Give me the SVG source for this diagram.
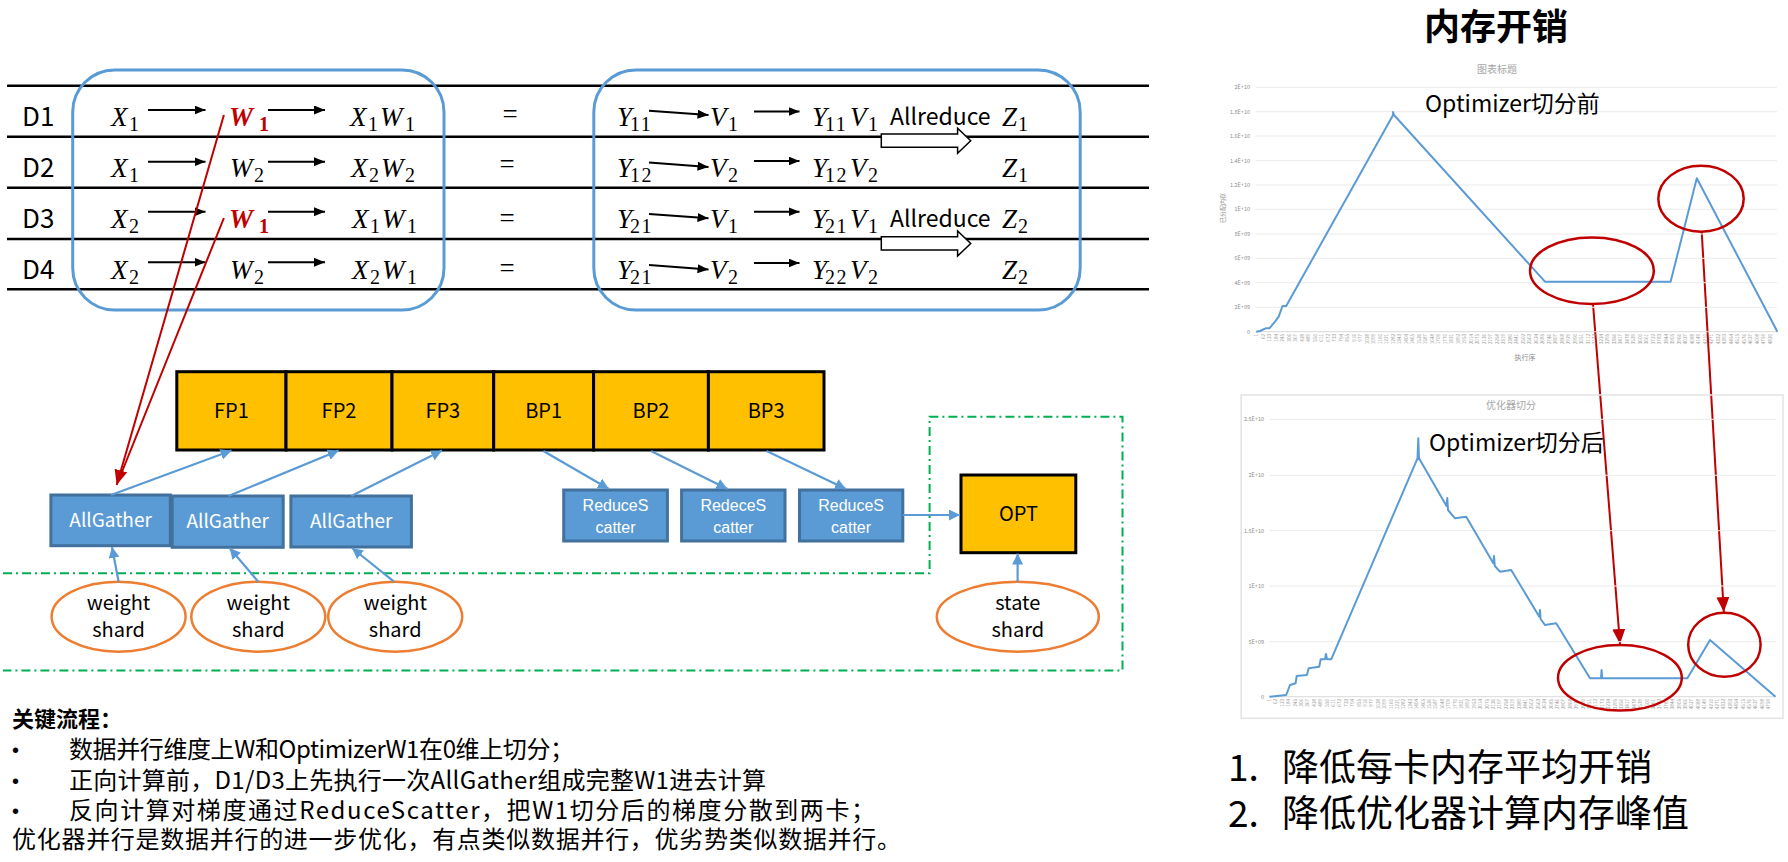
<svg xmlns="http://www.w3.org/2000/svg" width="1788" height="862" viewBox="0 0 1788 862">
<defs>
<style>
.sans{font-family:"Noto Sans CJK SC","Noto Sans",sans-serif}
.math{font-family:"Liberation Serif",serif;font-style:italic;font-size:27px;fill:#000}
.sub{font-style:normal;font-size:20px;letter-spacing:1.5px}
.red{fill:#C00000;font-weight:bold}
.eq{font-family:"Liberation Serif",serif;font-size:27px;text-anchor:middle}
.dl{font-size:26px}
.rowline{stroke:#000;stroke-width:2.5}
.mbox{fill:none;stroke:#5B9BD5;stroke-width:3}
.blk{stroke:#000;stroke-width:2;fill:none}
.blue{stroke:#5B9BD5;stroke-width:2.2;fill:none}
.redl{stroke:#C00000;stroke-width:2;fill:none}
.cell{fill:#FFC000;stroke:#000;stroke-width:3}
.cl{font-size:20px;text-anchor:middle;fill:#000}
.bb{fill:#5B9BD5;stroke:#41719C;stroke-width:3}
.bt{font-size:19px;text-anchor:middle;fill:#fff}
.rt{font-family:"Liberation Sans",sans-serif;font-size:16px;text-anchor:middle;fill:#fff}
.ell{fill:#fff;stroke:#ED7D31;stroke-width:2.5}
.et{font-size:20px;text-anchor:middle;fill:#000}
.grid{stroke:#ebebeb;stroke-width:1}
.cline{stroke:#5B9BD5;stroke-width:2;fill:none;stroke-linejoin:round}
.rell{fill:none;stroke:#C00000;stroke-width:2.5}
.yl{font-size:5.5px;fill:#8c8c8c;text-anchor:end}
.xt{font-size:4.6px;fill:#9a9a9a;text-anchor:end}
.ct{font-size:10px;fill:#a6a6a6;text-anchor:middle}
.body{font-size:24px;fill:#000}
.bul{font-family:"Liberation Sans",sans-serif;font-size:20px;fill:#000}
</style>
<marker id="ab" markerUnits="userSpaceOnUse" markerWidth="12" markerHeight="9" refX="11" refY="4.5" orient="auto"><path d="M0,0 L11,4.5 L0,9 z" fill="#000"/></marker>
<marker id="au" markerUnits="userSpaceOnUse" markerWidth="12" markerHeight="11" refX="11" refY="5.5" orient="auto"><path d="M0,0 L11,5.5 L0,11 z" fill="#5B9BD5"/></marker>
<marker id="ar" markerUnits="userSpaceOnUse" markerWidth="16" markerHeight="13" refX="15" refY="6.5" orient="auto"><path d="M0,0 L15,6.5 L0,13 z" fill="#C00000"/></marker>
</defs>
<rect width="1788" height="862" fill="#fff"/>

<g id="table-lines">
<line class="rowline" x1="7" y1="85.7" x2="1149" y2="85.7"/>
<line class="rowline" x1="7" y1="136.7" x2="1149" y2="136.7"/>
<line class="rowline" x1="7" y1="187.7" x2="1149" y2="187.7"/>
<line class="rowline" x1="7" y1="239" x2="1149" y2="239"/>
<line class="rowline" x1="7" y1="289.3" x2="1149" y2="289.3"/>
</g>

<g id="left-box"><rect class="mbox" x="72.7" y="70" width="371.3" height="240" rx="42"/></g>
<g id="right-box"><rect class="mbox" x="593.8" y="70" width="486.4" height="240" rx="42"/></g>

<g id="row-labels" class="sans dl">
<text x="22" y="126">D1</text>
<text x="22" y="177">D2</text>
<text x="22" y="228">D3</text>
<text x="22" y="279">D4</text>
</g>

<g id="left-math">
<text class="math" y="126"><tspan x="111">X</tspan><tspan class="sub" x="129" y="131">1</tspan></text>
<text class="math red" y="126"><tspan x="229">W</tspan><tspan class="sub" x="259" y="131">1</tspan></text>
<text class="math" y="126"><tspan x="350">X</tspan><tspan class="sub" x="368" y="131">1</tspan><tspan x="380" y="126">W</tspan><tspan class="sub" x="405" y="131">1</tspan></text>

<text class="math" y="177"><tspan x="111">X</tspan><tspan class="sub" x="129" y="182">1</tspan></text>
<text class="math" y="177"><tspan x="230">W</tspan><tspan class="sub" x="254" y="182">2</tspan></text>
<text class="math" y="177"><tspan x="351">X</tspan><tspan class="sub" x="369" y="182">2</tspan><tspan x="381" y="177">W</tspan><tspan class="sub" x="405" y="182">2</tspan></text>

<text class="math" y="228"><tspan x="111">X</tspan><tspan class="sub" x="129" y="233">2</tspan></text>
<text class="math red" y="228"><tspan x="229">W</tspan><tspan class="sub" x="259" y="233">1</tspan></text>
<text class="math" y="228"><tspan x="352">X</tspan><tspan class="sub" x="370" y="233">1</tspan><tspan x="382" y="228">W</tspan><tspan class="sub" x="407" y="233">1</tspan></text>

<text class="math" y="279"><tspan x="111">X</tspan><tspan class="sub" x="129" y="284">2</tspan></text>
<text class="math" y="279"><tspan x="230">W</tspan><tspan class="sub" x="254" y="284">2</tspan></text>
<text class="math" y="279"><tspan x="352">X</tspan><tspan class="sub" x="370" y="284">2</tspan><tspan x="382" y="279">W</tspan><tspan class="sub" x="407" y="284">1</tspan></text>
</g>

<g id="equals">
<text class="eq" x="510" y="123">=</text>
<text class="eq" x="507" y="173">=</text>
<text class="eq" x="507" y="227">=</text>
<text class="eq" x="507" y="277">=</text>
</g>

<g id="right-math">
<text class="math" y="126"><tspan x="617">Y</tspan><tspan class="sub" x="630" y="131">11</tspan></text>
<text class="math" y="126"><tspan x="710">V</tspan><tspan class="sub" x="728" y="131">1</tspan></text>
<text class="math" y="126"><tspan x="812">Y</tspan><tspan class="sub" x="825" y="131">11</tspan><tspan x="850" y="126">V</tspan><tspan class="sub" x="868" y="131">1</tspan></text>
<text class="math" y="126"><tspan x="1002">Z</tspan><tspan class="sub" x="1018" y="131">1</tspan></text>

<text class="math" y="177"><tspan x="617">Y</tspan><tspan class="sub" x="630" y="182">12</tspan></text>
<text class="math" y="177"><tspan x="710">V</tspan><tspan class="sub" x="728" y="182">2</tspan></text>
<text class="math" y="177"><tspan x="812">Y</tspan><tspan class="sub" x="825" y="182">12</tspan><tspan x="850" y="177">V</tspan><tspan class="sub" x="868" y="182">2</tspan></text>
<text class="math" y="177"><tspan x="1002">Z</tspan><tspan class="sub" x="1018" y="182">1</tspan></text>

<text class="math" y="228"><tspan x="617">Y</tspan><tspan class="sub" x="630" y="233">21</tspan></text>
<text class="math" y="228"><tspan x="710">V</tspan><tspan class="sub" x="728" y="233">1</tspan></text>
<text class="math" y="228"><tspan x="812">Y</tspan><tspan class="sub" x="825" y="233">21</tspan><tspan x="850" y="228">V</tspan><tspan class="sub" x="868" y="233">1</tspan></text>
<text class="math" y="228"><tspan x="1002">Z</tspan><tspan class="sub" x="1018" y="233">2</tspan></text>

<text class="math" y="279"><tspan x="617">Y</tspan><tspan class="sub" x="630" y="284">21</tspan></text>
<text class="math" y="279"><tspan x="710">V</tspan><tspan class="sub" x="728" y="284">2</tspan></text>
<text class="math" y="279"><tspan x="812">Y</tspan><tspan class="sub" x="825" y="284">22</tspan><tspan x="850" y="279">V</tspan><tspan class="sub" x="868" y="284">2</tspan></text>
<text class="math" y="279"><tspan x="1002">Z</tspan><tspan class="sub" x="1018" y="284">2</tspan></text>
</g>

<g id="allreduce-1">
<text class="sans" x="890" y="125" font-size="23">Allreduce</text>
<polygon points="881.3,134 957.6,134 957.6,128.3 970.7,140.8 957.6,153.3 957.6,147.3 881.3,147.3" fill="#fff" stroke="#000" stroke-width="1.5"/>
</g>
<g id="allreduce-2">
<text class="sans" x="890" y="227" font-size="23">Allreduce</text>
<polygon points="881.3,236.7 957.6,236.7 957.6,231 970.7,243.5 957.6,256 957.6,250 881.3,250" fill="#fff" stroke="#000" stroke-width="1.5"/>
</g>

<g id="FP1"><rect class="cell" x="176.8" y="371.7" width="109.2" height="78.3"/><text class="sans cl" x="231.4" y="418">FP1</text></g>
<g id="FP2"><rect class="cell" x="286" y="371.7" width="106" height="78.3"/><text class="sans cl" x="339" y="418">FP2</text></g>
<g id="FP3"><rect class="cell" x="392" y="371.7" width="101.7" height="78.3"/><text class="sans cl" x="442.8" y="418">FP3</text></g>
<g id="BP1"><rect class="cell" x="493.7" y="371.7" width="99.9" height="78.3"/><text class="sans cl" x="543.6" y="418">BP1</text></g>
<g id="BP2"><rect class="cell" x="593.6" y="371.7" width="114.8" height="78.3"/><text class="sans cl" x="651" y="418">BP2</text></g>
<g id="BP3"><rect class="cell" x="708.4" y="371.7" width="115.6" height="78.3"/><text class="sans cl" x="766.2" y="418">BP3</text></g>

<g id="dash-region"><path d="M3,573.3 H929.6 V416.7 H1122.5 V670.5 H3" fill="none" stroke="#00B050" stroke-width="2" stroke-dasharray="9 4 2 4"/></g>

<g id="AllGather1"><rect class="bb" x="50.9" y="495" width="119.4" height="50.7"/><text class="sans bt" x="110.6" y="527">AllGather</text></g>
<g id="AllGather2"><rect class="bb" x="172.2" y="496" width="111" height="51.3"/><text class="sans bt" x="227.7" y="528">AllGather</text></g>
<g id="AllGather3"><rect class="bb" x="290.9" y="496" width="120.5" height="51"/><text class="sans bt" x="351.2" y="528">AllGather</text></g>

<g id="ReduceScatter1"><rect class="bb" x="563.7" y="490" width="103.7" height="51"/><text class="rt"><tspan x="615.5" y="511">ReduceS</tspan><tspan x="615.5" y="533">catter</tspan></text></g>
<g id="ReduceScatter2"><rect class="bb" x="681.6" y="490" width="103.4" height="51"/><text class="rt"><tspan x="733.3" y="511">RedeceS</tspan><tspan x="733.3" y="533">catter</tspan></text></g>
<g id="ReduceScatter3"><rect class="bb" x="799.5" y="490" width="103.3" height="51"/><text class="rt"><tspan x="851.1" y="511">ReduceS</tspan><tspan x="851.1" y="533">catter</tspan></text></g>

<g id="OPT"><rect class="cell" x="961" y="475" width="114.8" height="77.7"/><text class="sans cl" x="1018.4" y="521">OPT</text></g>

<g id="weight-shard1"><ellipse class="ell" cx="118.6" cy="616.7" rx="67" ry="35"/><text class="sans et"><tspan x="118.6" y="610">weight</tspan><tspan x="118.6" y="636.7">shard</tspan></text></g>
<g id="weight-shard2"><ellipse class="ell" cx="258.3" cy="616.7" rx="67" ry="35"/><text class="sans et"><tspan x="258.3" y="610">weight</tspan><tspan x="258.3" y="636.7">shard</tspan></text></g>
<g id="weight-shard3"><ellipse class="ell" cx="395.2" cy="616.7" rx="67" ry="35"/><text class="sans et"><tspan x="395.2" y="610">weight</tspan><tspan x="395.2" y="636.7">shard</tspan></text></g>
<g id="state-shard"><ellipse class="ell" cx="1017.8" cy="616.7" rx="81" ry="35"/><text class="sans et"><tspan x="1017.8" y="610">state</tspan><tspan x="1017.8" y="636.7">shard</tspan></text></g>

<g id="connectors">
<line class="blk" x1="148" y1="110" x2="205.5" y2="110" marker-end="url(#ab)"/>
<line class="blk" x1="268" y1="110" x2="325" y2="110" marker-end="url(#ab)"/>
<line class="blk" x1="148" y1="161.7" x2="205.5" y2="161.7" marker-end="url(#ab)"/>
<line class="blk" x1="268" y1="161.7" x2="325" y2="161.7" marker-end="url(#ab)"/>
<line class="blk" x1="148" y1="211.7" x2="205.5" y2="211.7" marker-end="url(#ab)"/>
<line class="blk" x1="268" y1="211.7" x2="325" y2="211.7" marker-end="url(#ab)"/>
<line class="blk" x1="148" y1="262.3" x2="205.5" y2="262.3" marker-end="url(#ab)"/>
<line class="blk" x1="268" y1="262.3" x2="325" y2="262.3" marker-end="url(#ab)"/>

<line class="blk" x1="649" y1="110.7" x2="708.5" y2="115" marker-end="url(#ab)"/>
<line class="blk" x1="754" y1="111.5" x2="799.5" y2="111.5" marker-end="url(#ab)"/>
<line class="blk" x1="649" y1="162.5" x2="708.5" y2="167" marker-end="url(#ab)"/>
<line class="blk" x1="754" y1="161" x2="799.5" y2="161" marker-end="url(#ab)"/>
<line class="blk" x1="649" y1="214" x2="708.5" y2="218.3" marker-end="url(#ab)"/>
<line class="blk" x1="754" y1="211.7" x2="799.5" y2="211.7" marker-end="url(#ab)"/>
<line class="blk" x1="649" y1="265" x2="708.5" y2="269.5" marker-end="url(#ab)"/>
<line class="blk" x1="754" y1="263" x2="799.5" y2="263" marker-end="url(#ab)"/>

<line class="redl" x1="223.9" y1="115" x2="116.7" y2="485" marker-end="url(#ar)"/>
<line class="redl" x1="223.9" y1="218" x2="121.5" y2="473"/>

<line class="blue" x1="111" y1="495" x2="231.5" y2="450.5" marker-end="url(#au)"/>
<line class="blue" x1="228.5" y1="496" x2="338.7" y2="450.5" marker-end="url(#au)"/>
<line class="blue" x1="351.3" y1="496" x2="442" y2="450.5" marker-end="url(#au)"/>
<line class="blue" x1="118.6" y1="581.7" x2="112" y2="547" marker-end="url(#au)"/>
<line class="blue" x1="258.3" y1="581.7" x2="229.6" y2="548" marker-end="url(#au)"/>
<line class="blue" x1="394" y1="581.7" x2="352" y2="548" marker-end="url(#au)"/>
<line class="blue" x1="543.4" y1="451" x2="608.9" y2="489" marker-end="url(#au)"/>
<line class="blue" x1="651" y1="451" x2="727.5" y2="489" marker-end="url(#au)"/>
<line class="blue" x1="766.6" y1="451" x2="846" y2="489" marker-end="url(#au)"/>
<line class="blue" x1="902.8" y1="515" x2="960" y2="515" marker-end="url(#au)"/>
<line class="blue" x1="1017.6" y1="581.7" x2="1017.6" y2="553.5" marker-end="url(#au)"/>

<line class="redl" x1="1593" y1="304" x2="1620" y2="644" marker-end="url(#ar)"/>
<line class="redl" x1="1701.7" y1="231.7" x2="1723.8" y2="612" marker-end="url(#ar)"/>
</g>

<g id="notes" class="sans">
<text x="12" y="727" font-size="22" font-weight="bold">关键流程：</text>
<text class="bul" x="12" y="757">•</text>
<text class="body" x="69" y="758" textLength="505" lengthAdjust="spacing">数据并行维度上W和OptimizerW1在0维上切分；</text>
<text class="bul" x="12" y="788">•</text>
<text class="body" x="69" y="789" textLength="697" lengthAdjust="spacing">正向计算前，D1/D3上先执行一次AllGather组成完整W1进去计算</text>
<text class="bul" x="12" y="818">•</text>
<text class="body" x="69" y="819" textLength="806" lengthAdjust="spacing">反向计算对梯度通过ReduceScatter，把W1切分后的梯度分散到两卡；</text>
<text class="body" x="12" y="848" textLength="889" lengthAdjust="spacing">优化器并行是数据并行的进一步优化，有点类似数据并行，优劣势类似数据并行。</text>
</g>

<g id="title"><text class="sans" x="1496" y="40" font-size="36" font-weight="bold" text-anchor="middle">内存开销</text></g>

<g id="chart-before">
<text class="sans ct" x="1497" y="73">图表标题</text>
<line class="grid" x1="1255.5" y1="87.3" x2="1777" y2="87.3"/>
<line class="grid" x1="1255.5" y1="111.7" x2="1777" y2="111.7"/>
<line class="grid" x1="1255.5" y1="136" x2="1777" y2="136"/>
<line class="grid" x1="1255.5" y1="160.7" x2="1777" y2="160.7"/>
<line class="grid" x1="1255.5" y1="185" x2="1777" y2="185"/>
<line class="grid" x1="1255.5" y1="209.3" x2="1777" y2="209.3"/>
<line class="grid" x1="1255.5" y1="234" x2="1777" y2="234"/>
<line class="grid" x1="1255.5" y1="258.3" x2="1777" y2="258.3"/>
<line class="grid" x1="1255.5" y1="282.7" x2="1777" y2="282.7"/>
<line class="grid" x1="1255.5" y1="307.3" x2="1777" y2="307.3"/>
<line x1="1255.5" y1="331.7" x2="1777" y2="331.7" stroke="#d9d9d9" stroke-width="1"/>
<g class="sans yl">
<text x="1250" y="89.3">2E+10</text>
<text x="1250" y="113.7">1.8E+10</text>
<text x="1250" y="138">1.6E+10</text>
<text x="1250" y="162.7">1.4E+10</text>
<text x="1250" y="187">1.2E+10</text>
<text x="1250" y="211.3">1E+10</text>
<text x="1250" y="236">8E+09</text>
<text x="1250" y="260.3">6E+09</text>
<text x="1250" y="284.7">4E+09</text>
<text x="1250" y="309.3">2E+09</text>
<text x="1250" y="333.7">0</text>
</g>
<text class="sans" transform="translate(1225,208) rotate(-90)" font-size="6" fill="#8c8c8c" text-anchor="middle">已分配内存</text>
<text class="sans" x="1525" y="360" font-size="7" fill="#8c8c8c" text-anchor="middle">执行序</text>
<g transform="rotate(-90)"><text class="sans xt"><tspan x="-334" y="1258">1</tspan><tspan x="-334" y="1264.5">62</tspan><tspan x="-334" y="1271">123</tspan><tspan x="-334" y="1277.5">184</tspan><tspan x="-334" y="1284">245</tspan><tspan x="-334" y="1290.5">306</tspan><tspan x="-334" y="1297">367</tspan><tspan x="-334" y="1303.5">428</tspan><tspan x="-334" y="1310">489</tspan><tspan x="-334" y="1316.5">550</tspan><tspan x="-334" y="1323">611</tspan><tspan x="-334" y="1329.5">672</tspan><tspan x="-334" y="1336">733</tspan><tspan x="-334" y="1342.5">794</tspan><tspan x="-334" y="1349">855</tspan><tspan x="-334" y="1355.5">916</tspan><tspan x="-334" y="1362">977</tspan><tspan x="-334" y="1368.5">1038</tspan><tspan x="-334" y="1375">1099</tspan><tspan x="-334" y="1381.5">1160</tspan><tspan x="-334" y="1388">1221</tspan><tspan x="-334" y="1394.5">1282</tspan><tspan x="-334" y="1401">1343</tspan><tspan x="-334" y="1407.5">1404</tspan><tspan x="-334" y="1414">1465</tspan><tspan x="-334" y="1420.5">1526</tspan><tspan x="-334" y="1427">1587</tspan><tspan x="-334" y="1433.5">1648</tspan><tspan x="-334" y="1440">1709</tspan><tspan x="-334" y="1446.5">1770</tspan><tspan x="-334" y="1453">1831</tspan><tspan x="-334" y="1459.5">1892</tspan><tspan x="-334" y="1466">1953</tspan><tspan x="-334" y="1472.5">2014</tspan><tspan x="-334" y="1479">2075</tspan><tspan x="-334" y="1485.5">2136</tspan><tspan x="-334" y="1492">2197</tspan><tspan x="-334" y="1498.5">2258</tspan><tspan x="-334" y="1505">2319</tspan><tspan x="-334" y="1511.5">2380</tspan><tspan x="-334" y="1518">2441</tspan><tspan x="-334" y="1524.5">2502</tspan><tspan x="-334" y="1531">2563</tspan><tspan x="-334" y="1537.5">2624</tspan><tspan x="-334" y="1544">2685</tspan><tspan x="-334" y="1550.5">2746</tspan><tspan x="-334" y="1557">2807</tspan><tspan x="-334" y="1563.5">2868</tspan><tspan x="-334" y="1570">2929</tspan><tspan x="-334" y="1576.5">2990</tspan><tspan x="-334" y="1583">3051</tspan><tspan x="-334" y="1589.5">3112</tspan><tspan x="-334" y="1596">3173</tspan><tspan x="-334" y="1602.5">3234</tspan><tspan x="-334" y="1609">3295</tspan><tspan x="-334" y="1615.5">3356</tspan><tspan x="-334" y="1622">3417</tspan><tspan x="-334" y="1628.5">3478</tspan><tspan x="-334" y="1635">3539</tspan><tspan x="-334" y="1641.5">3600</tspan><tspan x="-334" y="1648">3661</tspan><tspan x="-334" y="1654.5">3722</tspan><tspan x="-334" y="1661">3783</tspan><tspan x="-334" y="1667.5">3844</tspan><tspan x="-334" y="1674">3905</tspan><tspan x="-334" y="1680.5">3966</tspan><tspan x="-334" y="1687">4027</tspan><tspan x="-334" y="1693.5">4088</tspan><tspan x="-334" y="1700">4149</tspan><tspan x="-334" y="1706.5">4210</tspan><tspan x="-334" y="1713">4271</tspan><tspan x="-334" y="1719.5">4332</tspan><tspan x="-334" y="1726">4393</tspan><tspan x="-334" y="1732.5">4454</tspan><tspan x="-334" y="1739">4515</tspan><tspan x="-334" y="1745.5">4576</tspan><tspan x="-334" y="1752">4637</tspan><tspan x="-334" y="1758.5">4698</tspan><tspan x="-334" y="1765">4759</tspan><tspan x="-334" y="1771.5">4820</tspan></text></g>
<polyline class="cline" points="1256.2,331.7 1260,331 1265.6,328.3 1269.4,328.3 1275,321.7 1278.7,316.7 1282.5,306 1286.2,306 1393.1,115 1393.1,112 1394,115 1545,281.7 1670.6,281.7 1696.8,178.3 1777.4,331.7"/>
<text class="sans" x="1425" y="112" font-size="23">Optimizer切分前</text>
<ellipse class="rell" cx="1591.9" cy="270.7" rx="61.9" ry="33.3"/>
<ellipse class="rell" cx="1701" cy="198.7" rx="42.7" ry="33"/>
</g>

<g id="chart-after">
<rect x="1241.2" y="395" width="541.8" height="323.3" fill="none" stroke="#e3e3e3" stroke-width="1.5"/>
<text class="sans ct" x="1511" y="409">优化器切分</text>
<line class="grid" x1="1269.4" y1="419.3" x2="1775.5" y2="419.3"/>
<line class="grid" x1="1269.4" y1="475.3" x2="1775.5" y2="475.3"/>
<line class="grid" x1="1269.4" y1="530.7" x2="1775.5" y2="530.7"/>
<line class="grid" x1="1269.4" y1="586" x2="1775.5" y2="586"/>
<line class="grid" x1="1269.4" y1="641.7" x2="1775.5" y2="641.7"/>
<line x1="1269.4" y1="696.7" x2="1775.5" y2="696.7" stroke="#d9d9d9" stroke-width="1"/>
<g class="sans yl">
<text x="1264" y="421.3">2.5E+10</text>
<text x="1264" y="477.3">2E+10</text>
<text x="1264" y="532.7">1.5E+10</text>
<text x="1264" y="588">1E+10</text>
<text x="1264" y="643.7">5E+09</text>
<text x="1264" y="698.7">0</text>
</g>
<g transform="rotate(-90)"><text class="sans xt"><tspan x="-699" y="1271">1</tspan><tspan x="-699" y="1277.4">62</tspan><tspan x="-699" y="1283.8">123</tspan><tspan x="-699" y="1290.2">184</tspan><tspan x="-699" y="1296.6">245</tspan><tspan x="-699" y="1303">306</tspan><tspan x="-699" y="1309.4">367</tspan><tspan x="-699" y="1315.8">428</tspan><tspan x="-699" y="1322.2">489</tspan><tspan x="-699" y="1328.6">550</tspan><tspan x="-699" y="1335">611</tspan><tspan x="-699" y="1341.4">672</tspan><tspan x="-699" y="1347.8">733</tspan><tspan x="-699" y="1354.2">794</tspan><tspan x="-699" y="1360.6">855</tspan><tspan x="-699" y="1367">916</tspan><tspan x="-699" y="1373.4">977</tspan><tspan x="-699" y="1379.8">1038</tspan><tspan x="-699" y="1386.2">1099</tspan><tspan x="-699" y="1392.6">1160</tspan><tspan x="-699" y="1399">1221</tspan><tspan x="-699" y="1405.4">1282</tspan><tspan x="-699" y="1411.8">1343</tspan><tspan x="-699" y="1418.2">1404</tspan><tspan x="-699" y="1424.6">1465</tspan><tspan x="-699" y="1431">1526</tspan><tspan x="-699" y="1437.4">1587</tspan><tspan x="-699" y="1443.8">1648</tspan><tspan x="-699" y="1450.2">1709</tspan><tspan x="-699" y="1456.6">1770</tspan><tspan x="-699" y="1463">1831</tspan><tspan x="-699" y="1469.4">1892</tspan><tspan x="-699" y="1475.8">1953</tspan><tspan x="-699" y="1482.2">2014</tspan><tspan x="-699" y="1488.6">2075</tspan><tspan x="-699" y="1495">2136</tspan><tspan x="-699" y="1501.4">2197</tspan><tspan x="-699" y="1507.8">2258</tspan><tspan x="-699" y="1514.2">2319</tspan><tspan x="-699" y="1520.6">2380</tspan><tspan x="-699" y="1527">2441</tspan><tspan x="-699" y="1533.4">2502</tspan><tspan x="-699" y="1539.8">2563</tspan><tspan x="-699" y="1546.2">2624</tspan><tspan x="-699" y="1552.6">2685</tspan><tspan x="-699" y="1559">2746</tspan><tspan x="-699" y="1565.4">2807</tspan><tspan x="-699" y="1571.8">2868</tspan><tspan x="-699" y="1578.2">2929</tspan><tspan x="-699" y="1584.6">2990</tspan><tspan x="-699" y="1591">3051</tspan><tspan x="-699" y="1597.4">3112</tspan><tspan x="-699" y="1603.8">3173</tspan><tspan x="-699" y="1610.2">3234</tspan><tspan x="-699" y="1616.6">3295</tspan><tspan x="-699" y="1623">3356</tspan><tspan x="-699" y="1629.4">3417</tspan><tspan x="-699" y="1635.8">3478</tspan><tspan x="-699" y="1642.2">3539</tspan><tspan x="-699" y="1648.6">3600</tspan><tspan x="-699" y="1655">3661</tspan><tspan x="-699" y="1661.4">3722</tspan><tspan x="-699" y="1667.8">3783</tspan><tspan x="-699" y="1674.2">3844</tspan><tspan x="-699" y="1680.6">3905</tspan><tspan x="-699" y="1687">3966</tspan><tspan x="-699" y="1693.4">4027</tspan><tspan x="-699" y="1699.8">4088</tspan><tspan x="-699" y="1706.2">4149</tspan><tspan x="-699" y="1712.6">4210</tspan><tspan x="-699" y="1719">4271</tspan><tspan x="-699" y="1725.4">4332</tspan><tspan x="-699" y="1731.8">4393</tspan><tspan x="-699" y="1738.2">4454</tspan><tspan x="-699" y="1744.6">4515</tspan><tspan x="-699" y="1751">4576</tspan><tspan x="-699" y="1757.4">4637</tspan><tspan x="-699" y="1763.8">4698</tspan><tspan x="-699" y="1770.2">4759</tspan></text></g>
<polyline class="cline" points="1269.4,696.7 1286.2,695 1290,685 1295.6,683.3 1296.7,676 1306.9,675 1308.7,668.3 1319.2,666.7 1320.7,659.3 1325,659.3 1326,654 1327,659.3 1331.2,659.3 1417.5,458.3 1418.3,438.3 1419,458.3 1446.5,506 1447.3,498 1448,510 1455,518.3 1466.2,516.7 1493.3,563.3 1494,556 1494.8,566 1500,571.7 1511.2,570 1539.3,616.7 1540,610 1540.6,619 1545,625 1556.2,623.3 1590,678.3 1601,678.3 1601.6,670 1602.2,678.3 1687.4,678.3 1710,640 1775.5,696.7"/>
<text class="sans" x="1429" y="451" font-size="23">Optimizer切分后</text>
<ellipse class="rell" cx="1619.9" cy="677.8" rx="61.9" ry="32.8"/>
<ellipse class="rell" cx="1724.4" cy="644.7" rx="36.2" ry="32"/>
</g>

<g id="conclusions" class="sans">
<text x="1228" y="781" font-size="37">1.</text>
<text x="1282" y="781" font-size="37">降低每卡内存平均开销</text>
<text x="1228" y="827" font-size="37">2.</text>
<text x="1282" y="827" font-size="37">降低优化器计算内存峰值</text>
</g>
</svg>
